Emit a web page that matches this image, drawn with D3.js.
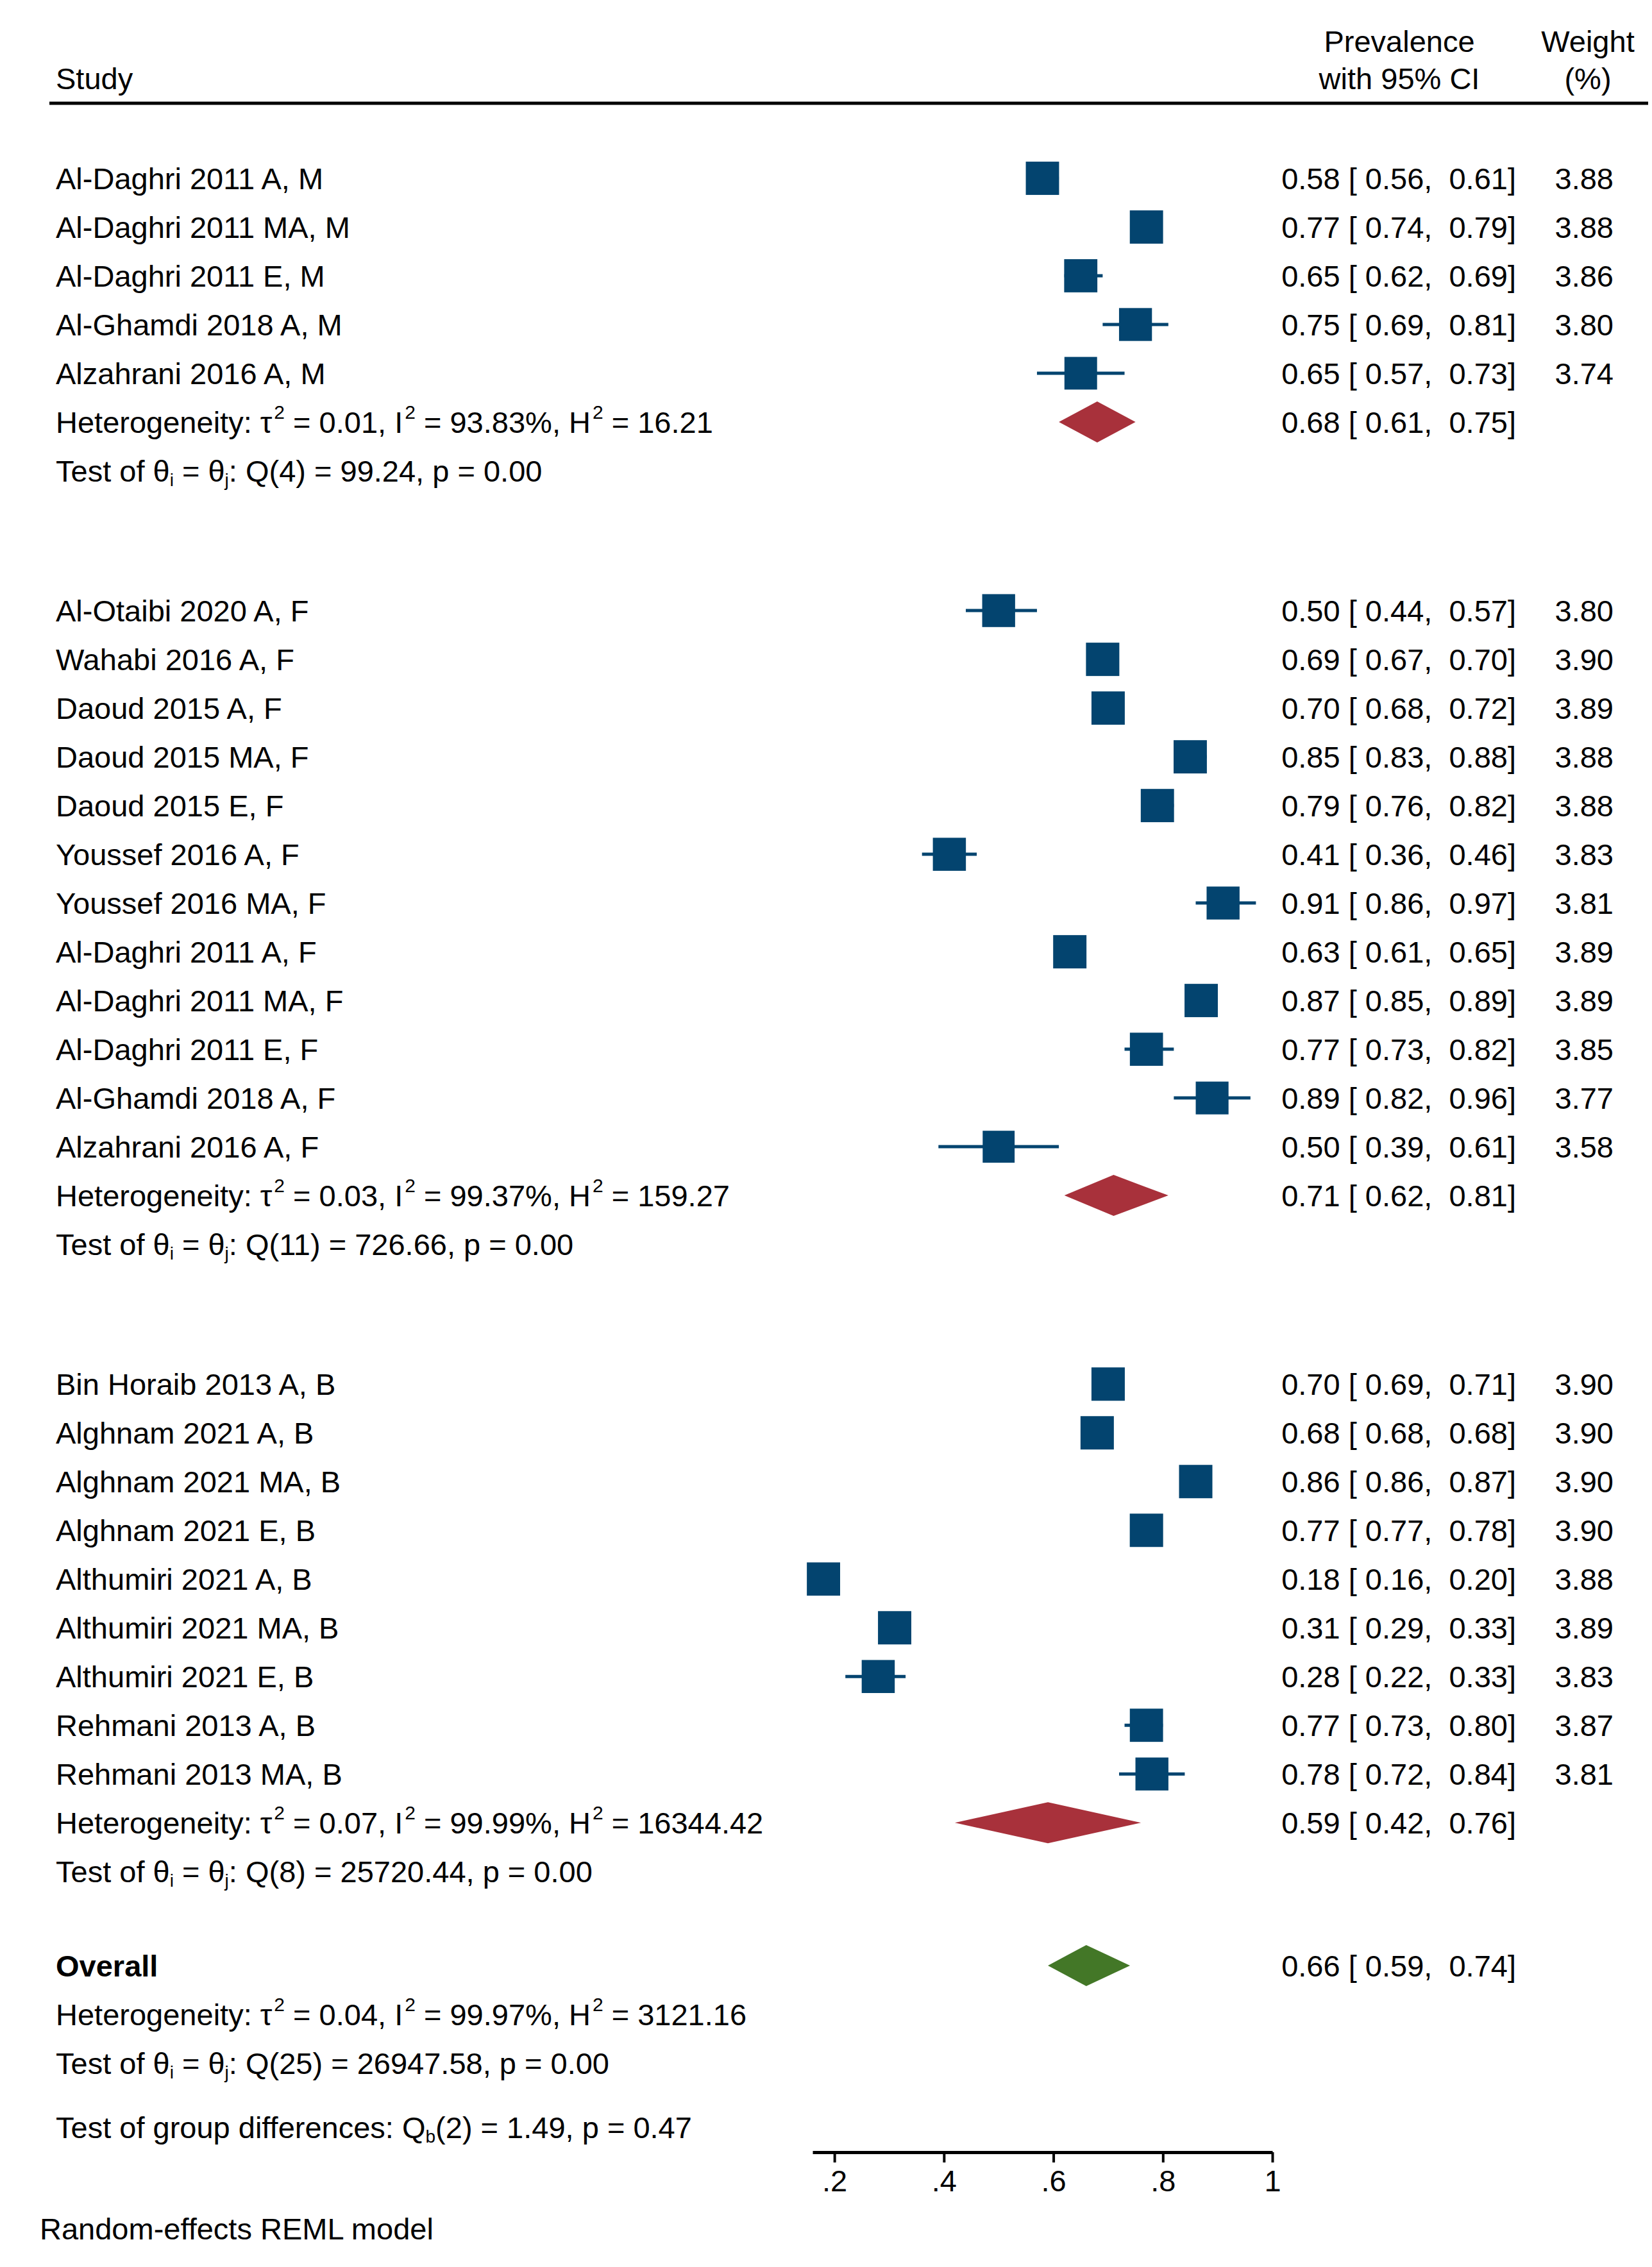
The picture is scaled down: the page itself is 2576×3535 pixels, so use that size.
<!DOCTYPE html>
<html>
<head>
<meta charset="utf-8">
<script src="https://cdn.jsdelivr.net/npm/d3@7"></script>
<style>
  body { margin: 0; background: #fff; }
  text { font-family: "Liberation Sans", Arial, Helvetica, sans-serif; fill: #000; }
  .pre { white-space: pre; }
</style>
</head>
<body>
<div id="chart"></div>
<script>
// study rows
const studyNames = [
  'Al-Daghri 2011 A, M', 'Al-Daghri 2011 MA, M', 'Al-Daghri 2011 E, M', 'Al-Ghamdi 2018 A, M', 'Alzahrani 2016 A, M',
  'Al-Otaibi 2020 A, F', 'Wahabi 2016 A, F', 'Daoud 2015 A, F', 'Daoud 2015 MA, F', 'Daoud 2015 E, F',
  'Youssef 2016 A, F', 'Youssef 2016 MA, F', 'Al-Daghri 2011 A, F', 'Al-Daghri 2011 MA, F', 'Al-Daghri 2011 E, F',
  'Al-Ghamdi 2018 A, F', 'Alzahrani 2016 A, F',
  'Bin Horaib 2013 A, B', 'Alghnam 2021 A, B', 'Alghnam 2021 MA, B', 'Alghnam 2021 E, B', 'Althumiri 2021 A, B',
  'Althumiri 2021 MA, B', 'Althumiri 2021 E, B', 'Rehmani 2013 A, B', 'Rehmani 2013 MA, B'
];
const studyGroup = [0,0,0,0,0, 1,1,1,1,1,1,1,1,1,1,1,1, 2,2,2,2,2,2,2,2,2];
const studyEst = [0.58,0.77,0.65,0.75,0.65, 0.50,0.69,0.70,0.85,0.79,0.41,0.91,0.63,0.87,0.77,0.89,0.50, 0.70,0.68,0.86,0.77,0.18,0.31,0.28,0.77,0.78];
const studyLo  = [0.56,0.74,0.62,0.69,0.57, 0.44,0.67,0.68,0.83,0.76,0.36,0.86,0.61,0.85,0.73,0.82,0.39, 0.69,0.68,0.86,0.77,0.16,0.29,0.22,0.73,0.72];
const studyHi  = [0.61,0.79,0.69,0.81,0.73, 0.57,0.70,0.72,0.88,0.82,0.46,0.97,0.65,0.89,0.82,0.96,0.61, 0.71,0.68,0.87,0.78,0.20,0.33,0.33,0.80,0.84];
const studyWeight = [3.88,3.88,3.86,3.80,3.74, 3.80,3.90,3.89,3.88,3.88,3.83,3.81,3.89,3.89,3.85,3.77,3.58, 3.90,3.90,3.90,3.90,3.88,3.89,3.83,3.87,3.81];

// subgroup summaries
const groupEst = [0.68, 0.71, 0.59];
const groupLo  = [0.61, 0.62, 0.42];
const groupHi  = [0.75, 0.81, 0.76];
const groupTau2 = ['0.01', '0.03', '0.07'];
const groupI2   = ['93.83%', '99.37%', '99.99%'];
const groupH2   = ['16.21', '159.27', '16344.42'];
const groupQdf  = ['4', '11', '8'];
const groupQ    = ['99.24', '726.66', '25720.44'];
const groupP    = ['0.00', '0.00', '0.00'];

// overall
const overallEst = 0.66, overallLo = 0.59, overallHi = 0.74;
const overallStats = { tau2: '0.04', i2: '99.97%', h2: '3121.16', qdf: '25', q: '26947.58', p: '0.00' };
const groupDiff = { df: '2', q: '1.49', p: '0.47' };

const xTicks = [0.2, 0.4, 0.6, 0.8, 1];

const W = 2576, H = 3535;
const FS = 47;
const blue = '#03446f', red = '#a8313b', green = '#437727';

const svg = d3.select('#chart').append('svg')
  .attr('width', W).attr('height', H)
  .attr('viewBox', `0 0 ${W} ${H}`);

const x = d3.scaleLinear().domain([0.16, 1]).range([1267, 1984]);
const y = d3.scaleLinear().domain([0, 1]).range([278, 354]);   // row slots

// build row slots (groups separated by a bit under 3 rows)
const rows = [];
let slot = 0;
const groupStart = [];
for (let g = 0; g < 3; g++) {
  studyNames.forEach((n, i) => {
    if (studyGroup[i] === g) { rows.push({ i: i, slot: slot }); slot += 1; }
  });
  groupStart[g] = { het: slot, test: slot + 1 };
  slot += 1 + 2.87;
}
const overallSlot = slot - 2.87 + 1.93;

function fmt(v) { return v.toFixed(2); }
function ciText(e, l, h) { return `${fmt(e)} [ ${fmt(l)},  ${fmt(h)}]`; }

// text with sup/sub pieces: parts = [[text, 'sup'|'sub'|null], ...]
function richText(g, xx, yy, parts, bold) {
  const t = g.append('text').attr('class', 'pre').attr('x', xx).attr('y', yy)
    .attr('font-size', FS).attr('font-weight', bold ? 'bold' : null);
  let shift = 0;
  parts.forEach(p => {
    const s = t.append('tspan').text(p[0]);
    let target = 0;
    if (p[1] === 'sup') { s.attr('font-size', 30).attr('dx', 3); target = -22; }
    else if (p[1] === 'sub') { s.attr('font-size', 28); target = 7; }
    if (target !== shift) { s.attr('dy', target - shift); shift = target; }
  });
  return t;
}
function hetParts(tau2, i2, h2) {
  return [['Heterogeneity: \u03c4'], ['2', 'sup'], [` = ${tau2}, I`], ['2', 'sup'], [` = ${i2}, H`], ['2', 'sup'], [` = ${h2}`]];
}
function testParts(df, q, p) {
  return [['Test of \u03b8'], ['i', 'sub'], [' = \u03b8'], ['j', 'sub'], [`: Q(${df}) = ${q}, p = ${p}`]];
}

const base = 17; // baseline offset from row centre
const xLabel = 87, xCiEnd = 2364, xWtEnd = 2516;

// header
svg.append('text').attr('x', xLabel).attr('y', 139).attr('font-size', FS).text('Study');
svg.append('text').attr('x', 2182).attr('y', 81).attr('font-size', FS).attr('text-anchor', 'middle').text('Prevalence');
svg.append('text').attr('x', 2182).attr('y', 139).attr('font-size', FS).attr('text-anchor', 'middle').text('with 95% CI');
svg.append('text').attr('x', 2476).attr('y', 81).attr('font-size', FS).attr('text-anchor', 'middle').text('Weight');
svg.append('text').attr('x', 2476).attr('y', 139).attr('font-size', FS).attr('text-anchor', 'middle').text('(%)');
svg.append('line').attr('x1', 77).attr('x2', 2570).attr('y1', 161).attr('y2', 161)
  .attr('stroke', '#000').attr('stroke-width', 5);

// study rows
const rowG = svg.append('g');
rows.forEach(r => {
  const i = r.i, cy = y(r.slot);
  rowG.append('text').attr('x', xLabel).attr('y', cy + base).attr('font-size', FS).text(studyNames[i]);
  rowG.append('line').attr('x1', x(studyLo[i])).attr('x2', x(studyHi[i]))
    .attr('y1', cy).attr('y2', cy).attr('stroke', blue).attr('stroke-width', 5);
  const side = 52 * Math.sqrt(studyWeight[i] / 3.90);
  rowG.append('rect').attr('x', x(studyEst[i]) - side / 2).attr('y', cy - side / 2)
    .attr('width', side).attr('height', side).attr('fill', blue);
  rowG.append('text').attr('class', 'pre').attr('x', xCiEnd).attr('y', cy + base).attr('font-size', FS)
    .attr('text-anchor', 'end').text(ciText(studyEst[i], studyLo[i], studyHi[i]));
  rowG.append('text').attr('x', xWtEnd).attr('y', cy + base).attr('font-size', FS)
    .attr('text-anchor', 'end').text(studyWeight[i].toFixed(2));
});

function diamond(e, l, h, cy, color) {
  const hh = 32;
  svg.append('path')
    .attr('d', `M${x(l)},${cy} L${x(e)},${cy - hh} L${x(h)},${cy} L${x(e)},${cy + hh} Z`)
    .attr('fill', color);
}

// subgroup summaries
for (let g = 0; g < 3; g++) {
  const hy = y(groupStart[g].het), ty = y(groupStart[g].test);
  richText(svg, xLabel, hy + base, hetParts(groupTau2[g], groupI2[g], groupH2[g]));
  richText(svg, xLabel, ty + base, testParts(groupQdf[g], groupQ[g], groupP[g]));
  diamond(groupEst[g], groupLo[g], groupHi[g], hy, red);
  svg.append('text').attr('class', 'pre').attr('x', xCiEnd).attr('y', hy + base).attr('font-size', FS)
    .attr('text-anchor', 'end').text(ciText(groupEst[g], groupLo[g], groupHi[g]));
}

// overall
const oy = y(overallSlot);
svg.append('text').attr('x', xLabel).attr('y', oy + base).attr('font-size', FS)
  .attr('font-weight', 'bold').text('Overall');
diamond(overallEst, overallLo, overallHi, oy, green);
svg.append('text').attr('class', 'pre').attr('x', xCiEnd).attr('y', oy + base).attr('font-size', FS)
  .attr('text-anchor', 'end').text(ciText(overallEst, overallLo, overallHi));
richText(svg, xLabel, y(overallSlot + 1) + base, hetParts(overallStats.tau2, overallStats.i2, overallStats.h2));
richText(svg, xLabel, y(overallSlot + 2) + base, testParts(overallStats.qdf, overallStats.q, overallStats.p));
richText(svg, xLabel, y(overallSlot + 3.32) + base,
  [['Test of group differences: Q'], ['b', 'sub'], [`(${groupDiff.df}) = ${groupDiff.q}, p = ${groupDiff.p}`]]);

// x axis
const axisY = 3356;
const axisG = svg.append('g').attr('transform', `translate(0,${axisY})`)
  .call(d3.axisBottom(x).tickValues(xTicks).tickSize(16).tickSizeOuter(0).tickPadding(12)
    .tickFormat(d => d === 1 ? '1' : d3.format('.1f')(d).replace(/^0/, '')));
axisG.select('.domain').attr('stroke', '#000').attr('stroke-width', 5);
axisG.selectAll('.tick line').attr('stroke', '#000').attr('stroke-width', 4);
axisG.selectAll('.tick text').attr('font-size', FS).attr('font-family', '"Liberation Sans", Arial, sans-serif').attr('fill', '#000');

svg.append('text').attr('x', 62).attr('y', 3492).attr('font-size', FS).text('Random-effects REML model');
</script>
</body>
</html>
